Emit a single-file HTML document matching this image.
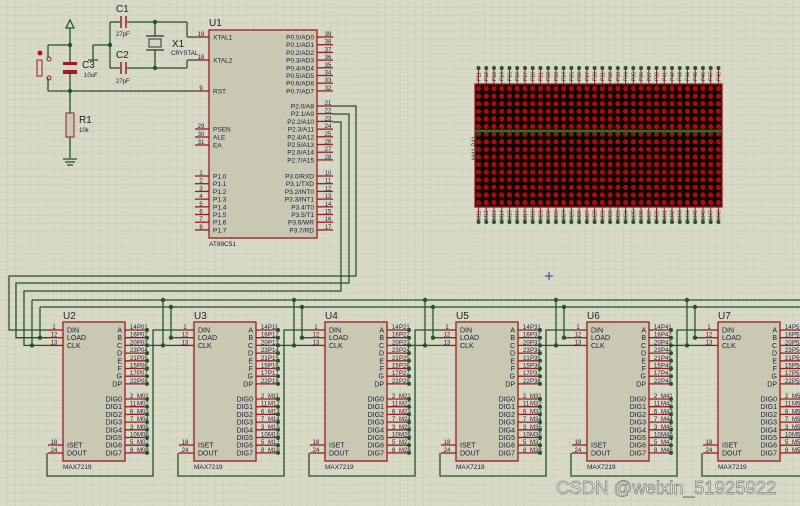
<!DOCTYPE html>
<html><head><meta charset="utf-8"><style>
html,body{margin:0;padding:0;background:#d9d9c8;}
svg{display:block;}
text{font-family:"Liberation Sans",sans-serif;}
</style></head><body>
<svg id="s" width="800" height="506" xmlns="http://www.w3.org/2000/svg">
<defs>
<pattern id="g" width="7.7" height="7.7" patternUnits="userSpaceOnUse">
<path d="M7.7 0V7.7H0" fill="none" stroke="#c3c3b0" stroke-width="0.7"/>
</pattern>
</defs>
<rect width="800" height="506" fill="#d9d9c8"/>
<rect width="800" height="506" fill="url(#g)"/>
<g id="c"></g>
<text x="556" y="494" font-size="18.5" fill="#f4f4f0" stroke="#7a7a76" stroke-width="0.7">CSDN @weixin_51925922</text>
</svg>
<script>
var o='';
var W='#22562a',R='#9a1c1c',F='#c9c8b3';
function L(x1,y1,x2,y2,c,w){o+='<line x1="'+x1+'" y1="'+y1+'" x2="'+x2+'" y2="'+y2+'" stroke="'+(c||W)+'" stroke-width="'+(w||1.3)+'"/>';}
function P(pts,c){o+='<polyline points="'+pts+'" fill="none" stroke="'+(c||W)+'" stroke-width="1.3"/>';}
function D(x,y,r,c){o+='<circle cx="'+x+'" cy="'+y+'" r="'+(r||2.2)+'" fill="'+(c||W)+'"/>';}
function T(x,y,s,sz,a,c){o+='<text x="'+x+'" y="'+y+'" font-size="'+(sz||6.5)+'"'+(a?' text-anchor="'+a+'"':'')+' fill="'+(c||'#1a1a3a')+'">'+s+'</text>';}
o+='<rect x="209" y="30" width="108" height="208" fill="'+F+'" stroke="'+R+'" stroke-width="1.3"/>';
T(209,26,'U1',10,0,'#222');T(209,246,'AT89C51',6.5);
var lp=[[37,'XTAL1',19],[60,'XTAL2',18],[91,'RST',9],[129,'PSEN',29],[137,'ALE',30],[145,'EA',31]];
for(var i=0;i<8;i++)lp.push([176+i*7.7,'P1.'+i,i+1]);
lp.forEach(function(p){L(195,p[0],209,p[0],R);T(213,p[0]+2.5,p[1]);T(201,p[0]-1,p[2],6,'middle');});
var rp=[];var n0=[39,38,37,36,35,34,33,32];
for(i=0;i<8;i++)rp.push([37+i*7.7,'P0.'+i+'/AD'+i,n0[i]]);
for(i=0;i<8;i++)rp.push([106+i*7.7,'P2.'+i+'/A'+(8+i),21+i]);
var p3=['RXD','TXD','INT0','INT1','T0','T1','WR','RD'];
for(i=0;i<8;i++)rp.push([176+i*7.7,'P3.'+i+'/'+p3[i],10+i]);
rp.forEach(function(p){L(317,p[0],333,p[0],R);T(314,p[0]+2.5,p[1],6.5,'end');T(328,p[0]-1,p[2],6,'middle');});
o+='<polygon points="70,20 66,28 74,28" fill="none" stroke="'+W+'" stroke-width="1.3"/>';
L(70,28,70,62);L(70,74,70,113);L(70,137,70,158);
L(63,159,77,159);L(65,162,75,162);L(67,165,73,165);
o+='<rect x="66" y="113" width="8" height="24" fill="'+F+'" stroke="'+R+'"/>';T(79,123,'R1',10,0,'#222');T(79,132,'10k',6);
o+='<rect x="63" y="62" width="14" height="3" fill="'+R+'"/><rect x="63" y="70" width="14" height="4" fill="'+R+'"/>';
T(82,68,'C3',10,0,'#222');T(84,77,'10uF',6);
L(48,45,70,45);L(48,91,195,91);L(48,45,48,58);L(48,78,48,91);
o+='<rect x="37" y="60" width="5" height="16" fill="none" stroke="'+R+'"/>';D(40,53,2.5,'#c01010');
o+='<circle cx="49" cy="59" r="2" fill="none" stroke="'+R+'"/><circle cx="49" cy="78" r="2" fill="none" stroke="'+R+'"/>';
D(70,45);D(70,91);
L(93,45,110,45);L(93,45,93,60);L(88,60,98,60);
L(110,22,120,22);L(127,22,187,22);L(187,22,187,37);L(187,37,195,37);
L(110,68,120,68);L(127,68,187,68);L(187,68,187,60);L(187,60,195,60);L(110,22,110,68);D(110,45);
L(121,16,121,28,R,1.5);L(126,16,126,28,R,1.5);L(121,62,121,74,R,1.5);L(126,62,126,74,R,1.5);
T(116,12,'C1',10,0,'#222');T(116,36,'27pF',6);T(116,58,'C2',10,0,'#222');T(116,83,'27pF',6);
L(155,22,155,36);L(155,50,155,68);L(146,36,164,36,'#333');L(146,50,164,50,'#333');
o+='<rect x="149" y="39" width="12" height="8" fill="none" stroke="#333"/>';D(155,22);D(155,68);
T(172,47,'X1',10,0,'#222');T(171,55,'CRYSTAL',6);
P('333,106 356,106 356,276 9,276 9,330 48,330');
P('333,114 349,114 349,283 16,283 16,337.7 48,337.7');
P('333,122 341,122 341,291 24,291 24,345.4 48,345.4');
L(32,300,800,300);L(40,307,800,307);L(32,300,32,345.4);L(40,307,40,337.7);D(40,337.7);D(32,345.4);
var lab=['P0','P1','P2','P3','P4','P5'];
var an=[14,16,20,23,21,15,17,22],dn=[2,11,6,7,3,10,5,8];
var AN=['A','B','C','D','E','F','G','DP'];
for(var k=0;k<6;k++){
 var x=63+131*k;
 o+='<rect x="'+x+'" y="322" width="62" height="139" fill="'+F+'" stroke="'+R+'" stroke-width="1.3"/>';
 T(x,319,'U'+(k+2),10,0,'#222');T(x,469,'MAX7219',6.5);
 var lf=[[330,'DIN',1],[337.7,'LOAD',12],[345.4,'CLK',13],[445,'ISET',18],[453,'DOUT',24]];
 lf.forEach(function(p){L(x-15,p[0],x,p[0],R);T(x+4,p[0]+2.5,p[1],7);T(x-9,p[0]-1,p[2],6,'middle');});
 for(i=0;i<8;i++){var y=330+i*7.7;L(x+62,y,x+84,y,R);T(x+59,y+2.5,AN[i],7,'end');T(x+67,y-1,an[i],6);T(x+74,y-1,lab[k]+(i+1),6);D(x+84,y,2);}
 for(i=0;i<8;i++){var y=399+i*7.7;L(x+62,y,x+84,y,R);T(x+59,y+2.5,'DIG'+i,7,'end');T(x+67,y-1,dn[i],6);T(x+74,y-1,'M'+lab[k].charAt(1)+(i+1),6);D(x+84,y,2);}
 P((x-16)+',453 '+(x-16)+',476 '+(x+90)+',476 '+(x+90)+',330 '+(x+116)+',330');
 if(k>0){L(x-31,300,x-31,345.4);L(x-15-31,345.4,x-15,345.4);L(x-23,307,x-23,337.7);L(x-23,337.7,x-15,337.7);D(x-31,300);D(x-23,307);D(x-31,345.4);D(x-23,337.7);}
}
o+='<rect x="475" y="84" width="247" height="123" fill="#120404" stroke="'+R+'" stroke-width="1.3"/>';
for(var c=0;c<32;c++){var cx=478.5+c*7.74;
 L(cx,68,cx,84,R,1);D(cx,68,2);L(cx,207,cx,222,R,1);D(cx,222,2);
 for(var r=0;r<16;r++){var cy=88.5+r*7.6;D(cx,cy,2.6,r==6?'#6a2a10':'#a50e0e');}
 o+='<text transform="translate('+(cx+2)+',81) rotate(-90)" font-size="5" fill="#333">P'+(Math.floor(c/8)+1)+(c%8+1)+'</text>';
 o+='<text transform="translate('+(cx+2)+',220) rotate(-90)" font-size="5" fill="#333">M'+(Math.floor(c/8)+1)+(c%8+1)+'</text>';
}
L(475,131,722,131,'#3a6a2a',2.5);
o+='<text transform="translate(476,160) rotate(-90)" font-size="6" fill="#333">M41  P41</text>';
L(545,276,553,276,'#2040c0',1);L(549,272,549,280,'#2040c0',1);
document.getElementById('c').innerHTML=o;
</script>
</body></html>
